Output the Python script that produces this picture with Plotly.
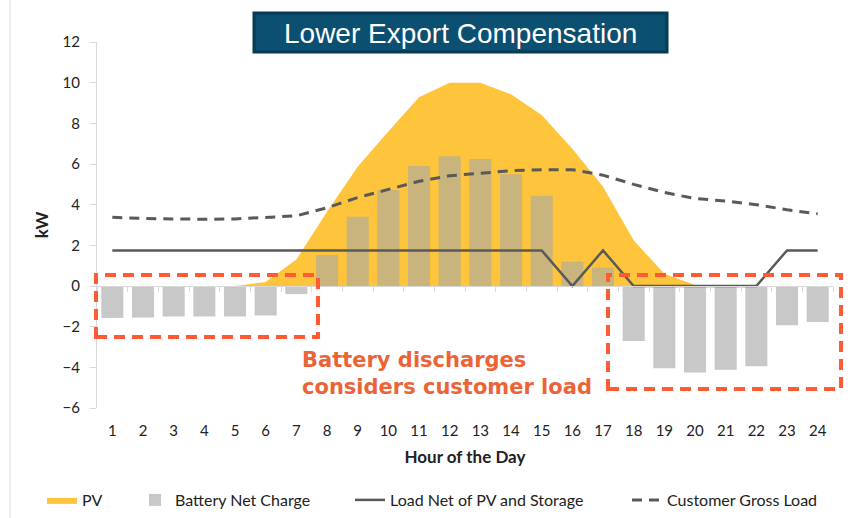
import plotly.graph_objects as go

hours = list(range(1, 25))
hour_labels = [str(h) for h in hours]
pv = [0, 0, 0, 0, 0, 0.2, 1.3, 3.65, 5.87, 7.6, 9.28, 10.0, 10.0, 9.43, 8.41, 6.75,
      4.88, 2.25, 0.6, 0.05, 0, 0, 0, 0]
battery = [-1.57, -1.55, -1.5, -1.5, -1.5, -1.45, -0.4, 1.52, 3.4, 4.72, 5.9, 6.38,
           6.25, 5.5, 4.44, 1.2, 0.9, -2.7, -4.05, -4.25, -4.12, -3.95, -1.93, -1.77]
load_net = [1.75, 1.75, 1.75, 1.75, 1.75, 1.75, 1.75, 1.75, 1.75, 1.75, 1.75, 1.75,
            1.75, 1.75, 1.75, 0, 1.75, 0, 0, 0, 0, 0, 1.75, 1.75]
gross_load = [3.38, 3.32, 3.3, 3.28, 3.3, 3.38, 3.45, 3.85, 4.35, 4.75, 5.15, 5.42,
              5.55, 5.67, 5.72, 5.72, 5.45, 5.0, 4.6, 4.3, 4.18, 4.0, 3.75, 3.55]
y_ticks = list(range(-6, 13, 2))

FONT = "Lato"
TXT = "#222222"
GRAY_AXIS = "#d9d9d9"
ORANGE = "#FEC43B"
BAR_GRAY = "#C8C8C8"
BAR_TAN = "#C8B47C"
LINE = "#595959"
RED = "#FF5A33"

# plot area pixel geometry
L, R, T, B = 97, 833, 42, 408
W, H = 850, 518
PW, PH = R - L, B - T


def px(x):
    return (x - L) / PW


def py(y):
    return (B - y) / PH


bar_colors = [BAR_TAN if v > 0 else BAR_GRAY for v in battery]

fig = go.Figure()
fig.add_trace(go.Scatter(
    x=hours, y=pv, name="PV", mode="lines", fill="tozeroy",
    fillcolor=ORANGE, line=dict(color=ORANGE, width=0),
    xaxis="x", yaxis="y", legend="legend"))
fig.add_trace(go.Bar(
    x=hours, y=battery, name="Battery Net Charge",
    marker=dict(color=bar_colors, line=dict(width=0)),
    xaxis="x2", yaxis="y2", legend="legend2"))
fig.add_trace(go.Scatter(
    x=hours, y=load_net, name="Load Net of PV and Storage", mode="lines",
    line=dict(color=LINE, width=2.5), xaxis="x2", yaxis="y2", legend="legend3"))
fig.add_trace(go.Scatter(
    x=hours, y=gross_load, name="Customer Gross Load", mode="lines",
    line=dict(color=LINE, width=3, dash="10px,7px"), xaxis="x2", yaxis="y2",
    legend="legend4"))

yr = [-6, 12]
xr = [0.5, 24.5]


def leg(xpix):
    return dict(orientation="h", x=px(xpix), xanchor="left", y=py(500), yanchor="middle",
                font=dict(family=FONT, size=16, color=TXT), bgcolor="rgba(0,0,0,0)")


fig.update_layout(
    width=W, height=H,
    margin=dict(l=L, r=W - R, t=T, b=H - B, autoexpand=False),
    paper_bgcolor="white", plot_bgcolor="white",
    font=dict(family=FONT, size=15, color=TXT),
    bargap=0.28,
    showlegend=True,
    legend=leg(42), legend2=leg(135), legend3=leg(350), legend4=leg(627),
    xaxis=dict(range=xr, tickmode="array", tickvals=hours, ticktext=hour_labels,
               showline=False, ticks="", showgrid=False, zeroline=False,
               ticklabelstandoff=12, tickfont=dict(family=FONT, size=15, color=TXT),
               title=dict(text="<b>Hour of the Day</b>", standoff=13,
                          font=dict(family=FONT, size=17, color=TXT))),
    yaxis=dict(range=yr, tickmode="array", tickvals=y_ticks, showline=True,
               linecolor=GRAY_AXIS, linewidth=1, ticks="outside", ticklen=6,
               tickcolor=GRAY_AXIS, showgrid=False, zeroline=False,
               ticklabelstandoff=7, tickfont=dict(family=FONT, size=15, color=TXT),
               title=dict(text="<b>kW</b>", standoff=9,
                          font=dict(family=FONT, size=17, color=TXT))),
    xaxis2=dict(range=xr, overlaying="x", anchor="free", position=6 / 18,
                tickmode="array", tickvals=[h + 0.5 for h in [0] + hours],
                showticklabels=False, ticks="outside", ticklen=5, tickcolor=GRAY_AXIS,
                showline=True, linecolor=GRAY_AXIS, linewidth=1, showgrid=False,
                zeroline=False),
    yaxis2=dict(range=yr, overlaying="y", anchor="x", showticklabels=False,
                showgrid=False, zeroline=False, showline=False, ticks=""),
)

shapes = [
    # slide border line at left
    dict(type="line", xref="paper", yref="paper", x0=px(10), x1=px(10), y0=py(0), y1=py(518),
         line=dict(color="#dddddd", width=1)),
    # title box
    dict(type="rect", xref="paper", yref="paper", x0=px(254), x1=px(667), y0=py(52), y1=py(13),
         fillcolor="#0B4F71", line=dict(color="#063A55", width=3)),
    # red dashed boxes
    dict(type="rect", xref="paper", yref="paper", x0=px(96), x1=px(318), y0=py(337), y1=py(275),
         line=dict(color=RED, width=4, dash="11px,7px")),
    dict(type="rect", xref="paper", yref="paper", x0=px(608), x1=px(841), y0=py(389), y1=py(275),
         line=dict(color=RED, width=4, dash="11px,7px")),
]
fig.update_layout(shapes=shapes)

fig.add_annotation(text="Lower Export Compensation", xref="paper", yref="paper",
                   x=px(460.5), y=py(33), xanchor="center", yanchor="middle",
                   showarrow=False,
                   font=dict(family="Liberation Sans", size=28, color="white"))
fig.add_annotation(text="Battery discharges<br>considers customer load",
                   xref="paper", yref="paper", x=px(300), y=py(346),
                   xanchor="left", yanchor="top", align="left", showarrow=False,
                   font=dict(family="DejaVu Sans", size=21, color="#EB6437", weight="bold"))

fig.write_html("out.html", config={"displayModeBar": False},
               post_script="document.body.style.margin='0px';")
